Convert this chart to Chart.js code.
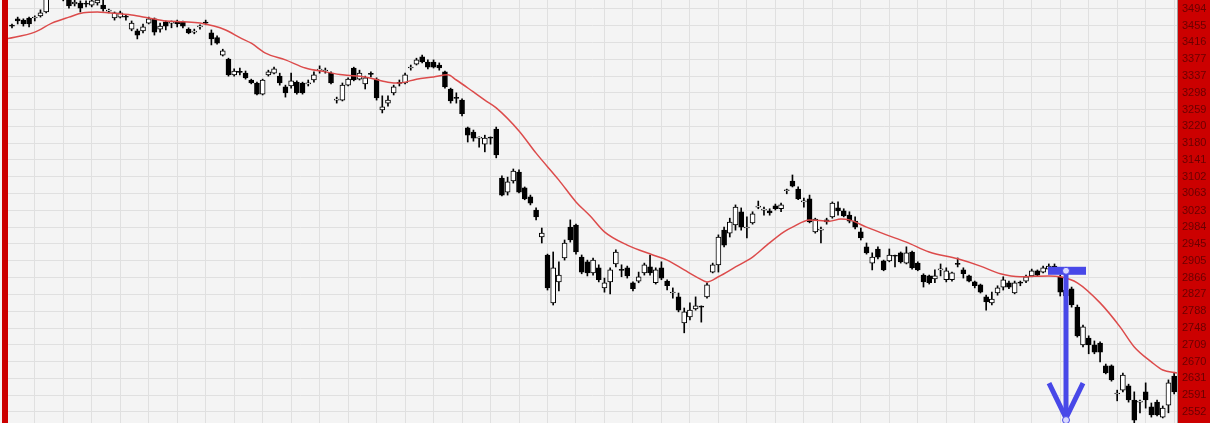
<!DOCTYPE html>
<html>
<head>
<meta charset="utf-8">
<script src="https://cdn.jsdelivr.net/npm/chart.js@4.4.0/dist/chart.umd.min.js"></script>
<style>
  html, body { margin: 0; padding: 0; background: #f4f4f4; }
  #wrap { width: 1210px; height: 423px; }
</style>
</head>
<body>
<div id="wrap"><canvas id="priceChart" width="1210" height="423"></canvas></div>
<script>
// daily candles, oldest first
const opens = [
  3455, 3471, 3468, 3473, 3473, 3478, 3487, 3538, 3566, 3543,
  3520, 3506, 3508, 3506, 3503, 3508, 3503, 3489, 3473, 3475,
  3476, 3447, 3443, 3443, 3461, 3471, 3447, 3464, 3461, 3466,
  3464, 3447, 3440, 3452, 3462, 3438, 3427, 3386, 3377, 3340,
  3347, 3344, 3328, 3321, 3295, 3340, 3344, 3337, 3312, 3314,
  3323, 3321, 3319, 3328, 3351, 3349, 3344, 3281, 3281, 3316,
  3356, 3330, 3319, 3342, 3330, 3258, 3274, 3298, 3321, 3321,
  3356, 3365, 3382, 3370, 3370, 3363, 3347, 3307, 3286, 3281,
  3216, 3206, 3192, 3178, 3193, 3213, 3099, 3066, 3092, 3113,
  3076, 3055, 3024, 2961, 2919, 2807, 2856, 2912, 2984, 2989,
  2914, 2903, 2877, 2889, 2842, 2856, 2898, 2884, 2889, 2854,
  2858, 2877, 2891, 2854, 2889, 2858, 2830, 2821, 2760, 2774,
  2793, 2798, 2821, 2879, 2896, 2977, 2970, 2989, 3020, 2982,
  2994, 3031, 3024, 3022, 3034, 3027, 3069, 3092, 3073, 3043,
  3050, 2973, 2977, 3001, 3008, 3029, 3022, 3012, 2998, 2973,
  2938, 2900, 2933, 2905, 2905, 2917, 2924, 2900, 2926, 2900,
  2872, 2870, 2863, 2884, 2861, 2861, 2898, 2884, 2870, 2856,
  2849, 2821, 2807, 2830, 2844, 2854, 2830, 2854, 2858, 2870,
  2882, 2879, 2886, 2893, 2868, 2837, 2840, 2797, 2709, 2725,
  2709, 2713, 2660, 2660, 2594, 2603, 2613, 2580, 2575, 2599,
  2564, 2575, 2540, 2568, 2636
];
const highs = [
  3459, 3475, 3471, 3475, 3478, 3492, 3538, 3571, 3576, 3550,
  3527, 3515, 3513, 3513, 3517, 3520, 3515, 3494, 3487, 3489,
  3480, 3466, 3447, 3459, 3475, 3473, 3461, 3466, 3466, 3468,
  3466, 3450, 3447, 3457, 3468, 3445, 3431, 3400, 3379, 3354,
  3356, 3349, 3330, 3323, 3330, 3351, 3358, 3344, 3316, 3344,
  3326, 3323, 3328, 3347, 3361, 3356, 3347, 3288, 3321, 3333,
  3358, 3351, 3337, 3347, 3333, 3291, 3291, 3316, 3328, 3344,
  3363, 3379, 3386, 3375, 3375, 3368, 3349, 3309, 3298, 3284,
  3218, 3211, 3195, 3199, 3195, 3218, 3104, 3101, 3120, 3118,
  3078, 3059, 3029, 2982, 2921, 2926, 2903, 2954, 3001, 2991,
  2919, 2907, 2912, 2896, 2865, 2889, 2931, 2896, 2893, 2856,
  2879, 2900, 2919, 2889, 2903, 2861, 2842, 2830, 2795, 2807,
  2821, 2800, 2854, 2900, 2966, 2984, 3005, 3036, 3029, 3008,
  3020, 3045, 3031, 3027, 3038, 3040, 3073, 3106, 3078, 3052,
  3059, 3005, 2984, 3005, 3043, 3043, 3027, 3020, 3008, 2982,
  2947, 2924, 2938, 2907, 2933, 2919, 2926, 2938, 2928, 2903,
  2875, 2872, 2884, 2898, 2889, 2879, 2912, 2889, 2872, 2858,
  2851, 2825, 2832, 2847, 2868, 2858, 2858, 2858, 2872, 2886,
  2884, 2893, 2898, 2898, 2872, 2842, 2844, 2802, 2755, 2730,
  2718, 2716, 2664, 2662, 2603, 2643, 2617, 2599, 2580, 2620,
  2573, 2580, 2566, 2627, 2643
];
const lows = [
  3450, 3459, 3454, 3452, 3466, 3475, 3485, 3534, 3538, 3513,
  3496, 3501, 3487, 3499, 3499, 3503, 3489, 3485, 3468, 3473,
  3468, 3443, 3424, 3438, 3459, 3433, 3440, 3445, 3450, 3452,
  3450, 3436, 3436, 3447, 3457, 3410, 3412, 3384, 3337, 3337,
  3340, 3330, 3319, 3293, 3293, 3337, 3342, 3316, 3288, 3309,
  3295, 3295, 3314, 3323, 3344, 3344, 3319, 3274, 3279, 3314,
  3326, 3328, 3307, 3335, 3281, 3251, 3267, 3293, 3314, 3319,
  3351, 3363, 3368, 3354, 3356, 3351, 3309, 3274, 3274, 3244,
  3183, 3185, 3171, 3160, 3178, 3146, 3057, 3059, 3087, 3064,
  3048, 3036, 3001, 2947, 2837, 2802, 2835, 2907, 2949, 2921,
  2875, 2870, 2872, 2856, 2832, 2828, 2891, 2868, 2865, 2835,
  2854, 2872, 2872, 2851, 2861, 2837, 2818, 2786, 2737, 2767,
  2790, 2762, 2818, 2877, 2879, 2938, 2961, 2977, 2977, 2959,
  2991, 3027, 3012, 3012, 3024, 3020, 3062, 3078, 3048, 3031,
  2994, 2970, 2947, 2991, 3005, 3012, 3008, 2994, 2980, 2954,
  2921, 2884, 2910, 2882, 2903, 2891, 2900, 2898, 2886, 2882,
  2844, 2851, 2854, 2870, 2856, 2858, 2891, 2865, 2856, 2842,
  2830, 2790, 2802, 2825, 2837, 2840, 2828, 2847, 2854, 2868,
  2870, 2877, 2884, 2882, 2823, 2818, 2797, 2727, 2704, 2688,
  2688, 2669, 2641, 2624, 2578, 2599, 2575, 2526, 2550, 2561,
  2540, 2543, 2538, 2550, 2594
];
const closes = [
  3454, 3466, 3459, 3459, 3474, 3485, 3534, 3562, 3548, 3522,
  3501, 3510, 3496, 3505, 3513, 3515, 3494, 3490, 3485, 3485,
  3475, 3461, 3433, 3452, 3471, 3440, 3454, 3454, 3462, 3459,
  3454, 3438, 3441, 3453, 3461, 3424, 3414, 3396, 3340, 3349,
  3346, 3333, 3321, 3295, 3328, 3347, 3354, 3321, 3298, 3326,
  3298, 3298, 3320, 3340, 3352, 3350, 3321, 3282, 3316, 3330,
  3328, 3344, 3333, 3341, 3286, 3265, 3281, 3312, 3320, 3340,
  3357, 3375, 3370, 3358, 3358, 3356, 3312, 3279, 3285, 3249,
  3199, 3192, 3193, 3192, 3192, 3153, 3059, 3090, 3115, 3066,
  3050, 3040, 3008, 2970, 2842, 2889, 2872, 2947, 2954, 2926,
  2879, 2877, 2907, 2861, 2854, 2884, 2926, 2883, 2870, 2840,
  2868, 2896, 2877, 2884, 2865, 2847, 2831, 2790, 2786, 2790,
  2800, 2797, 2849, 2896, 2961, 2942, 2996, 3031, 2984, 2983,
  3015, 3032, 3025, 3017, 3027, 3036, 3070, 3080, 3050, 3044,
  2996, 3003, 2978, 2996, 3040, 3022, 3010, 2998, 2984, 2959,
  2924, 2914, 2914, 2884, 2919, 2916, 2903, 2924, 2889, 2884,
  2856, 2854, 2870, 2885, 2882, 2877, 2897, 2875, 2858, 2847,
  2832, 2809, 2816, 2842, 2861, 2844, 2854, 2853, 2868, 2882,
  2872, 2889, 2893, 2886, 2832, 2823, 2802, 2730, 2751, 2709,
  2692, 2692, 2643, 2627, 2595, 2638, 2580, 2533, 2576, 2580,
  2545, 2545, 2561, 2620, 2599
];

// moving average at these candle positions
const maIdx = [-1, 4, 7, 10, 12.5, 15, 17, 21, 24, 27, 30, 33, 37.5, 40, 42, 44.5, 48, 51.5, 55, 58,
  62, 66, 68, 71, 74, 76.5, 78, 81, 83, 85, 89, 92, 96, 99, 101.5, 104, 108, 112.5, 115, 118,
  120.5, 122, 124, 127, 130, 132.5, 135.5, 137, 140, 143.5, 145.5, 147, 150, 153.5, 157, 161, 166, 170, 173.5, 177,
  182, 184, 187, 191, 194.5, 197, 200, 202, 204.5];
const maVals = [3424, 3440, 3461, 3475, 3485, 3487, 3485, 3480, 3473, 3466, 3464, 3461, 3445, 3427, 3414, 3391, 3375, 3356, 3347, 3340,
  3335, 3323, 3321, 3330, 3335, 3340, 3328, 3300, 3281, 3263, 3209, 3157, 3094, 3043, 3010, 2973, 2942, 2919, 2907, 2884,
  2865, 2856, 2868, 2891, 2914, 2942, 2973, 2984, 3001, 2998, 3003, 3001, 2984, 2966, 2949, 2926, 2910, 2893, 2875, 2868,
  2870, 2868, 2854, 2807, 2751, 2704, 2669, 2650, 2643];

const yTicks = [3494, 3455, 3416, 3377, 3337, 3298, 3259, 3220, 3180, 3141, 3102, 3063, 3023,
  2984, 2945, 2905, 2866, 2827, 2788, 2748, 2709, 2670, 2631, 2591, 2552];

// blue signal marker: candle index, price where it starts and where the arrow ends
const signalIdx = 185;
const signalFrom = 2882;
const signalTo = 2533;

const wickData = lows.map((lo, i) => ({ x: i, y: [lo, highs[i]] }));
const bodyData = opens.map((o, i) => ({ x: i, y: [o, closes[i]] }));
const maData = maIdx.map((x, i) => ({ x: x, y: maVals[i] }));

const framePlugin = {
    id: 'frame',
    beforeDraw(chart) {
        const { ctx, width, height } = chart;
        ctx.save();
        ctx.fillStyle = '#f4f4f4';
        ctx.fillRect(0, 0, width, height);
        ctx.fillStyle = '#cc0000';
        ctx.fillRect(2, 0, 6, height);
        ctx.restore();
    },
    afterDraw(chart) {
        // tint the price column red, keeping the darker label text
        const { ctx, chartArea, width, height } = chart;
        ctx.save();
        ctx.globalCompositeOperation = 'darken';
        ctx.fillStyle = '#cc0000';
        ctx.fillRect(chartArea.right + 1, 0, width - chartArea.right - 1, height);
        ctx.restore();
    }
};

const signalPlugin = {
    id: 'signal',
    afterDatasetsDraw(chart) {
        const { ctx } = chart;
        const xs = chart.scales.x, ys = chart.scales.y;
        const px = Math.round(xs.getPixelForValue(signalIdx));
        const top = ys.getPixelForValue(signalFrom);
        const bot = ys.getPixelForValue(signalTo);
        const blue = '#4848e8';
        ctx.save();
        ctx.fillStyle = blue;
        ctx.fillRect(px - 18, top - 4, 38, 8);
        ctx.strokeStyle = blue;
        ctx.lineWidth = 5;
        ctx.beginPath();
        ctx.moveTo(px, top);
        ctx.lineTo(px, bot);
        ctx.stroke();
        ctx.beginPath();
        ctx.moveTo(px - 17, bot - 37);
        ctx.lineTo(px, bot - 2);
        ctx.lineTo(px + 17, bot - 37);
        ctx.stroke();
        [top, bot].forEach(py => {
            ctx.beginPath();
            ctx.arc(px, py, 3.5, 0, Math.PI * 2);
            ctx.fillStyle = '#d8d8ff';
            ctx.fill();
            ctx.lineWidth = 1;
            ctx.strokeStyle = blue;
            ctx.stroke();
        });
        ctx.restore();
    }
};

const ctx = document.getElementById('priceChart').getContext('2d');
new Chart(ctx, {
    type: 'bar',
    data: {
        datasets: [
            {
                type: 'line',
                data: maData,
                borderColor: '#dc4b4b',
                borderWidth: 1.5,
                pointRadius: 0,
                cubicInterpolationMode: 'monotone',
                order: 0
            },
            {
                data: bodyData,
                grouped: false,
                barThickness: 5,
                minBarLength: 1,
                backgroundColor: c => closes[c.dataIndex] > opens[c.dataIndex] ? '#ffffff' : '#000000',
                borderColor: '#000000',
                borderWidth: 1,
                borderSkipped: false,
                order: 1
            },
            {
                data: wickData,
                grouped: false,
                barThickness: 1,
                backgroundColor: '#000000',
                order: 2
            }
        ]
    },
    options: {
        responsive: false,
        animation: false,
        layout: { padding: { left: 8, right: 0, top: 0, bottom: 0 } },
        plugins: { legend: { display: false }, tooltip: { enabled: false } },
        scales: {
            x: {
                type: 'linear',
                min: -0.7,
                max: 204.5,
                offset: false,
                ticks: { display: false },
                grid: { color: '#e0e0e0', drawTicks: false, offset: false },
                border: { display: false },
                afterBuildTicks: s => {
                    s.ticks = [];
                    for (let v = 4; v <= 204; v += 5) s.ticks.push({ value: v });
                },
                afterFit: s => { s.height = 0; s.paddingLeft = 0; s.paddingRight = 0; }
            },
            y: {
                position: 'right',
                min: 2526.2,
                max: 3515,
                backgroundColor: '#cc0000',
                ticks: {
                    autoSkip: false,
                    padding: 5,
                    color: '#6a0000',
                    showLabelBackdrop: false,
                    font: { family: 'Liberation Sans', size: 11 },
                    callback: v => String(v)
                },
                grid: { color: '#e0e0e0', drawTicks: false },
                border: { display: true, color: '#a0a0a0' },
                afterBuildTicks: s => { s.ticks = yTicks.map(v => ({ value: v })); },
                afterFit: s => { s.width = 33; s.paddingTop = 0; s.paddingBottom = 0; }
            }
        }
    },
    plugins: [framePlugin, signalPlugin]
});
</script>
</body>
</html>
